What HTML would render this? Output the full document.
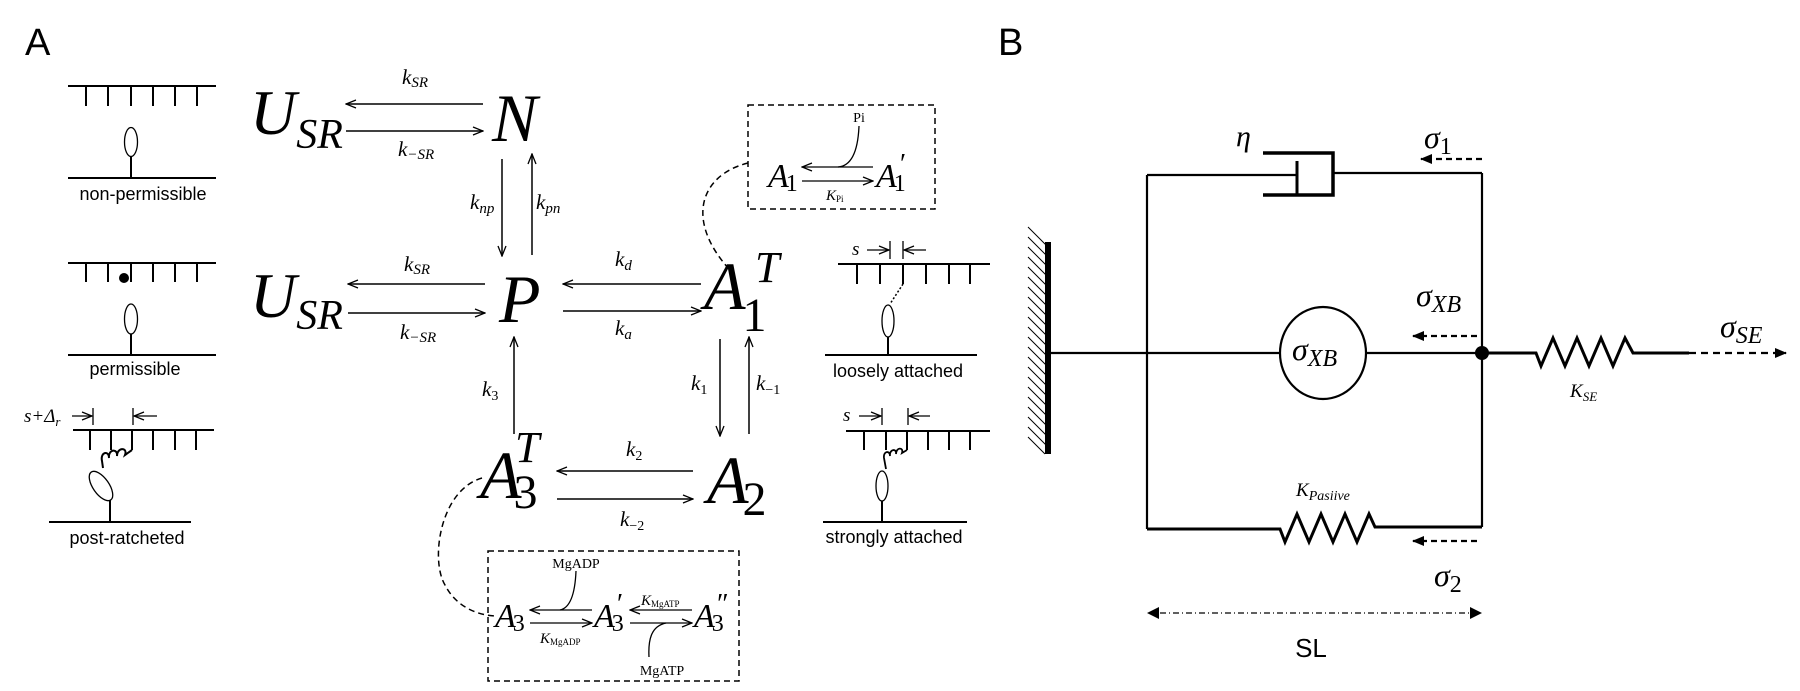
<!DOCTYPE html>
<html><head><meta charset="utf-8"><style>
html,body{margin:0;padding:0;background:#fff;}
svg{display:block;}
.s{font-family:"Liberation Sans",sans-serif;}
.m{font-family:"Liberation Serif",serif;font-style:italic;}
.r{font-family:"Liberation Serif",serif;}
</style></head><body>
<svg width="1800" height="691" viewBox="0 0 1800 691" xmlns="http://www.w3.org/2000/svg">
<defs>
<marker id="ah" markerWidth="12" markerHeight="10" refX="11" refY="5" orient="auto" markerUnits="userSpaceOnUse"><path d="M1,1 L11,5 L1,9" fill="none" stroke="#000" stroke-width="1.3"/></marker>
<marker id="fh" markerWidth="12" markerHeight="10" refX="11" refY="5" orient="auto" markerUnits="userSpaceOnUse"><path d="M0,0 L12,5 L0,10 z" fill="#000"/></marker>
</defs>

<text class="s" x="25" y="55" font-size="38">A</text>

<g stroke="#000" stroke-width="2" fill="none">
<line x1="68" y1="86" x2="216" y2="86"/>
<path d="M86,86v20M108,86v20M131,86v20M153,86v20M175,86v20M197,86v20"/>
<ellipse cx="131" cy="142" rx="6.5" ry="14.5" stroke-width="1.3"/>
<line x1="131" y1="157" x2="131" y2="178"/>
<line x1="68" y1="178" x2="216" y2="178"/>
</g>
<text class="s" x="143" y="200" font-size="18" text-anchor="middle">non-permissible</text>

<g stroke="#000" stroke-width="2" fill="none">
<line x1="68" y1="263" x2="216" y2="263"/>
<path d="M86,263v19M108,263v19M131,263v19M153,263v19M175,263v19M197,263v19"/>
<circle cx="124" cy="278" r="4" fill="#000"/>
<ellipse cx="131" cy="319" rx="6.5" ry="15" stroke-width="1.3"/>
<line x1="131" y1="334" x2="131" y2="355"/>
<line x1="68" y1="355" x2="216" y2="355"/>
</g>
<text class="s" x="135" y="375" font-size="18" text-anchor="middle">permissible</text>

<g stroke="#000" stroke-width="2" fill="none">
<line x1="73" y1="430" x2="214" y2="430"/>
<path d="M90,430v20M111,430v20M132,430v20M153,430v20M175,430v20M196,430v20"/>
<path d="M132,450 L125,455 c3,-8 -8,-8 -8,1 c1,-8 -9,-7 -8,2 c0,-8 -9,-6 -7,3 L103,468" stroke-width="2"/>
<ellipse cx="101" cy="486" rx="8" ry="17" transform="rotate(-35 101 486)" stroke-width="1.3"/>
<line x1="110" y1="500" x2="110" y2="522"/>
<line x1="49" y1="522" x2="191" y2="522"/>
<line x1="72" y1="416" x2="92" y2="416" stroke-width="1.3" marker-end="url(#ah)"/>
<line x1="93" y1="408" x2="93" y2="425" stroke-width="1.3"/>
<line x1="133" y1="408" x2="133" y2="425" stroke-width="1.3"/>
<line x1="157" y1="416" x2="134" y2="416" stroke-width="1.3" marker-end="url(#ah)"/>
</g>
<text class="m" x="24" y="422" font-size="19">s+Δ<tspan font-size="13" dy="4">r</tspan></text>
<text class="s" x="127" y="544" font-size="18" text-anchor="middle">post-ratcheted</text>

<text class="m" x="250" y="134" font-size="64">U<tspan font-size="42" dy="14">SR</tspan></text>
<text class="m" x="492" y="141" font-size="68">N</text>
<text class="m" x="250" y="317" font-size="64">U<tspan font-size="42" dy="12">SR</tspan></text>
<text class="m" x="499" y="322" font-size="68">P</text>
<text class="m" x="704" y="309" font-size="68">A<tspan class="r" font-style="normal" font-size="48" dy="22" dx="-3">1</tspan></text>
<text class="m" x="755" y="282" font-size="44">T</text>
<text class="m" x="480" y="498" font-size="68">A<tspan class="r" font-style="normal" font-size="48" dy="10" dx="-8">3</tspan></text>
<text class="m" x="515" y="462" font-size="44">T</text>
<text class="m" x="707" y="503" font-size="68">A<tspan class="r" font-style="normal" font-size="48" dy="12" dx="-6">2</tspan></text>

<g stroke="#000" stroke-width="1.5" fill="none">
<line x1="483" y1="104" x2="346" y2="104" marker-end="url(#ah)"/>
<line x1="346" y1="131" x2="483" y2="131" marker-end="url(#ah)"/>
<line x1="502" y1="159" x2="502" y2="256" marker-end="url(#ah)"/>
<line x1="532" y1="255" x2="532" y2="154" marker-end="url(#ah)"/>
<line x1="485" y1="284" x2="348" y2="284" marker-end="url(#ah)"/>
<line x1="348" y1="313" x2="485" y2="313" marker-end="url(#ah)"/>
<line x1="701" y1="284" x2="563" y2="284" marker-end="url(#ah)"/>
<line x1="563" y1="311" x2="701" y2="311" marker-end="url(#ah)"/>
<line x1="720" y1="339" x2="720" y2="436" marker-end="url(#ah)"/>
<line x1="749" y1="434" x2="749" y2="337" marker-end="url(#ah)"/>
<line x1="693" y1="471" x2="557" y2="471" marker-end="url(#ah)"/>
<line x1="557" y1="499" x2="693" y2="499" marker-end="url(#ah)"/>
<line x1="514" y1="434" x2="514" y2="337" marker-end="url(#ah)"/>
</g>
<g class="m" font-size="21">
<text x="402" y="84">k<tspan font-size="15" dy="3">SR</tspan></text>
<text x="398" y="156">k<tspan font-size="15" dy="3">−SR</tspan></text>
<text x="470" y="209">k<tspan font-size="15" dy="4">np</tspan></text>
<text x="536" y="209">k<tspan font-size="15" dy="4">pn</tspan></text>
<text x="404" y="271">k<tspan font-size="15" dy="3">SR</tspan></text>
<text x="400" y="339">k<tspan font-size="15" dy="3">−SR</tspan></text>
<text x="615" y="266">k<tspan font-size="15" dy="4">d</tspan></text>
<text x="615" y="335">k<tspan font-size="15" dy="4">a</tspan></text>
<text x="691" y="390">k<tspan class="r" font-style="normal" font-size="14" dy="4">1</tspan></text>
<text x="756" y="390">k<tspan class="r" font-style="normal" font-size="14" dy="4">−1</tspan></text>
<text x="626" y="456">k<tspan class="r" font-style="normal" font-size="14" dy="4">2</tspan></text>
<text x="620" y="526">k<tspan class="r" font-style="normal" font-size="14" dy="4">−2</tspan></text>
<text x="482" y="396">k<tspan class="r" font-style="normal" font-size="14" dy="4">3</tspan></text>
</g>

<g>
<rect x="748" y="105" width="187" height="104" fill="none" stroke="#000" stroke-width="1.5" stroke-dasharray="6,4"/>
<text class="m" x="768" y="187" font-size="34">A<tspan class="r" font-style="normal" font-size="24" dy="4" dx="-3">1</tspan></text>
<text class="m" x="876" y="187" font-size="34">A<tspan class="r" font-style="normal" font-size="24" dy="4" dx="-3">1</tspan></text>
<text class="r" x="900" y="173" font-size="28">′</text>
<line x1="873" y1="167" x2="802" y2="167" stroke="#000" stroke-width="1.3" marker-end="url(#ah)"/>
<line x1="802" y1="181" x2="873" y2="181" stroke="#000" stroke-width="1.3" marker-end="url(#ah)"/>
<path d="M859,126 C858,150 852,166 838,167" fill="none" stroke="#000" stroke-width="1.3"/>
<text class="r" x="859" y="122" font-size="14" text-anchor="middle">Pi</text>
<text class="m" x="826" y="200" font-size="15">K<tspan class="r" font-style="normal" font-size="9" dy="2">Pi</tspan></text>
</g>
<path d="M748,163 C700,175 685,220 729,269" fill="none" stroke="#000" stroke-width="1.5" stroke-dasharray="6,4"/>

<g>
<rect x="488" y="551" width="251" height="130" fill="none" stroke="#000" stroke-width="1.5" stroke-dasharray="6,4"/>
<text class="m" x="495" y="627" font-size="34">A<tspan class="r" font-style="normal" font-size="24" dy="4" dx="-3">3</tspan></text>
<text class="m" x="594" y="627" font-size="34">A<tspan class="r" font-style="normal" font-size="24" dy="4" dx="-3">3</tspan></text>
<text class="r" x="617" y="613" font-size="28">′</text>
<text class="m" x="694" y="627" font-size="34">A<tspan class="r" font-style="normal" font-size="24" dy="4" dx="-3">3</tspan></text>
<text class="r" x="717" y="613" font-size="28">″</text>
<line x1="592" y1="610" x2="530" y2="610" stroke="#000" stroke-width="1.3" marker-end="url(#ah)"/>
<line x1="530" y1="623" x2="592" y2="623" stroke="#000" stroke-width="1.3" marker-end="url(#ah)"/>
<line x1="692" y1="610" x2="630" y2="610" stroke="#000" stroke-width="1.3" marker-end="url(#ah)"/>
<line x1="630" y1="623" x2="692" y2="623" stroke="#000" stroke-width="1.3" marker-end="url(#ah)"/>
<path d="M576,571 C575,595 570,608 560,610" fill="none" stroke="#000" stroke-width="1.3"/>
<path d="M649,657 C648,638 652,626 666,623" fill="none" stroke="#000" stroke-width="1.3"/>
<text class="r" x="576" y="568" font-size="14" text-anchor="middle">MgADP</text>
<text class="r" x="662" y="675" font-size="14" text-anchor="middle">MgATP</text>
<text class="m" x="540" y="643" font-size="15">K<tspan class="r" font-style="normal" font-size="9" dy="2">MgADP</tspan></text>
<text class="m" x="641" y="605" font-size="15">K<tspan class="r" font-style="normal" font-size="9" dy="2">MgATP</tspan></text>
</g>
<path d="M482,478 C440,490 430,560 445,585 C455,605 475,615 495,616" fill="none" stroke="#000" stroke-width="1.5" stroke-dasharray="6,4"/>

<g stroke="#000" stroke-width="2" fill="none">
<line x1="838" y1="264" x2="990" y2="264"/>
<path d="M857,264v20M880,264v20M903,264v20M926,264v20M949,264v20M970,264v20"/>
<line x1="903" y1="284" x2="890" y2="304" stroke-dasharray="2,2" stroke-width="1.5"/>
<ellipse cx="888" cy="321" rx="6" ry="16" stroke-width="1.3"/>
<line x1="888" y1="337" x2="888" y2="355"/>
<line x1="825" y1="355" x2="977" y2="355"/>
<line x1="867" y1="250" x2="889" y2="250" stroke-width="1.3" marker-end="url(#ah)"/>
<line x1="890" y1="241" x2="890" y2="259" stroke-width="1.3"/>
<line x1="903" y1="241" x2="903" y2="259" stroke-width="1.3"/>
<line x1="926" y1="250" x2="904" y2="250" stroke-width="1.3" marker-end="url(#ah)"/>
</g>
<text class="m" x="852" y="255" font-size="19">s</text>
<text class="s" x="898" y="377" font-size="18" text-anchor="middle">loosely attached</text>

<g stroke="#000" stroke-width="2" fill="none">
<line x1="846" y1="431" x2="990" y2="431"/>
<path d="M864,431v19M886,431v19M907,431v19M928,431v19M949,431v19M970,431v19"/>
<path d="M907,450 L902,453 c2,-6 -6,-6 -6,1 c1,-6 -7,-5 -6,2 c0,-6 -7,-5 -6,2 L886,469" stroke-width="1.8"/>
<ellipse cx="882" cy="486" rx="6" ry="15" stroke-width="1.3"/>
<line x1="882" y1="501" x2="882" y2="522"/>
<line x1="823" y1="522" x2="967" y2="522"/>
<line x1="859" y1="416" x2="881" y2="416" stroke-width="1.3" marker-end="url(#ah)"/>
<line x1="882" y1="408" x2="882" y2="425" stroke-width="1.3"/>
<line x1="908" y1="408" x2="908" y2="425" stroke-width="1.3"/>
<line x1="930" y1="416" x2="909" y2="416" stroke-width="1.3" marker-end="url(#ah)"/>
</g>
<text class="m" x="843" y="421" font-size="19">s</text>
<text class="s" x="894" y="543" font-size="18" text-anchor="middle">strongly attached</text>

<text class="s" x="998" y="55" font-size="38">B</text>
<g stroke="#000" stroke-width="1">
<path d="M1028,227l20,20M1028,237l20,20M1028,247l20,20M1028,257l20,20M1028,267l20,20M1028,277l20,20M1028,287l20,20M1028,297l20,20M1028,307l20,20M1028,317l20,20M1028,327l20,20M1028,337l20,20M1028,347l20,20M1028,357l20,20M1028,367l20,20M1028,377l20,20M1028,387l20,20M1028,397l20,20M1028,407l20,20M1028,417l20,20M1028,427l20,20M1028,437l17,17"/>
</g>
<rect x="1045" y="242" width="6" height="212" fill="#000"/>
<g stroke="#000" stroke-width="2.2" fill="none">
<line x1="1048" y1="353" x2="1280" y2="353"/>
<line x1="1147" y1="175" x2="1147" y2="529"/>
<line x1="1147" y1="175" x2="1297" y2="175"/>
<line x1="1297" y1="161" x2="1297" y2="194" stroke-width="3"/>
<path d="M1263,153 H1333 V195 H1263" stroke-width="3.5"/>
<line x1="1333" y1="173" x2="1482" y2="173"/>
<line x1="1482" y1="173" x2="1482" y2="527"/>
<ellipse cx="1323" cy="353" rx="43" ry="46"/>
<line x1="1366" y1="353" x2="1482" y2="353"/>
<path d="M1482,353 H1536 L1541,366 L1553,338 L1565,366 L1577,338 L1589,366 L1601,338 L1613,366 L1625,338 L1633,353 H1689" stroke-width="3"/>
<path d="M1147,529 H1280 L1285,542 L1297,514 L1309,542 L1321,514 L1333,542 L1345,514 L1357,542 L1369,514 L1375,527 H1482" stroke-width="3"/>
</g>
<circle cx="1482" cy="353" r="7" fill="#000"/>
<line x1="1689" y1="353" x2="1786" y2="353" stroke="#000" stroke-width="2.2" stroke-dasharray="7,5" marker-end="url(#fh)"/>
<line x1="1482" y1="159" x2="1421" y2="159" stroke="#000" stroke-width="2.2" stroke-dasharray="6,4" marker-end="url(#fh)"/>
<line x1="1477" y1="336" x2="1413" y2="336" stroke="#000" stroke-width="2.2" stroke-dasharray="6,4" marker-end="url(#fh)"/>
<line x1="1477" y1="541" x2="1413" y2="541" stroke="#000" stroke-width="2.2" stroke-dasharray="6,4" marker-end="url(#fh)"/>
<line x1="1160" y1="613" x2="1470" y2="613" stroke="#000" stroke-width="1.3" stroke-dasharray="6,3,1,3"/>
<path d="M1147,613 l12,-6 v12 z M1482,613 l-12,-6 v12 z" fill="#000"/>
<text class="s" x="1311" y="657" font-size="26" text-anchor="middle">SL</text>
<text class="m" x="1236" y="146" font-size="30">η</text>
<text class="m" x="1424" y="148" font-size="32">σ<tspan class="r" font-style="normal" font-size="24" dy="6">1</tspan></text>
<text class="m" x="1416" y="306" font-size="32">σ<tspan font-size="24" dy="6">XB</tspan></text>
<text class="m" x="1292" y="360" font-size="32">σ<tspan font-size="24" dy="6">XB</tspan></text>
<text class="m" x="1720" y="337" font-size="32">σ<tspan font-size="24" dy="6">SE</tspan></text>
<text class="m" x="1434" y="586" font-size="32">σ<tspan class="r" font-style="normal" font-size="24" dy="6">2</tspan></text>
<text class="m" x="1570" y="397" font-size="19">K<tspan font-size="13" dy="4">SE</tspan></text>
<text class="m" x="1296" y="496" font-size="19">K<tspan font-size="14" dy="4">Pasiive</tspan></text>
</svg>
</body></html>
